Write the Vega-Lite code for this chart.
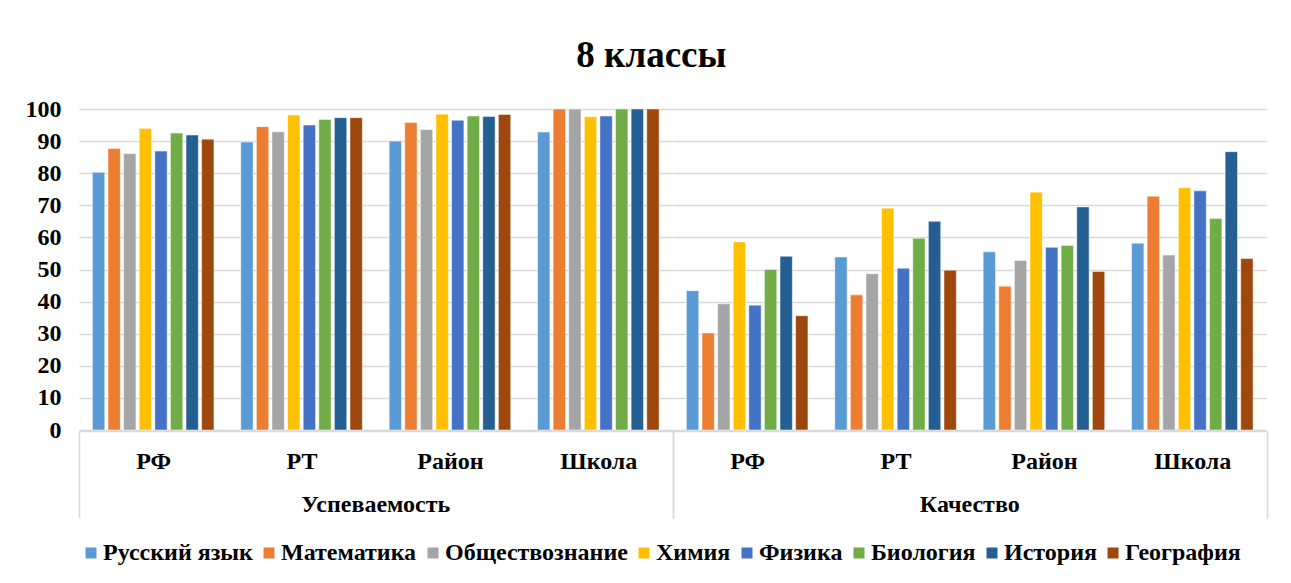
{
  "$schema": "https://vega.github.io/schema/vega-lite/v6.json",
  "background": "white",
  "padding": {"left": 25, "top": 37, "right": 24, "bottom": 5},
  "title": {"text": "8 классы", "fontSize": 37, "font": "Liberation Serif", "fontWeight": "bold", "color": "#000000", "anchor": "middle", "frame": "bounds", "offset": 22, "dx": 5},
  "data": {"values": [
    {"cat": "Успеваемость", "level": "РФ", "subject": "Русский язык", "value": 80.3},
    {"cat": "Успеваемость", "level": "РФ", "subject": "Математика", "value": 87.7},
    {"cat": "Успеваемость", "level": "РФ", "subject": "Обществознание", "value": 86.1},
    {"cat": "Успеваемость", "level": "РФ", "subject": "Химия", "value": 93.9},
    {"cat": "Успеваемость", "level": "РФ", "subject": "Физика", "value": 86.9},
    {"cat": "Успеваемость", "level": "РФ", "subject": "Биология", "value": 92.5},
    {"cat": "Успеваемость", "level": "РФ", "subject": "История", "value": 91.9},
    {"cat": "Успеваемость", "level": "РФ", "subject": "География", "value": 90.6},
    {"cat": "Успеваемость", "level": "РТ", "subject": "Русский язык", "value": 89.7},
    {"cat": "Успеваемость", "level": "РТ", "subject": "Математика", "value": 94.5},
    {"cat": "Успеваемость", "level": "РТ", "subject": "Обществознание", "value": 92.9},
    {"cat": "Успеваемость", "level": "РТ", "subject": "Химия", "value": 98.1},
    {"cat": "Успеваемость", "level": "РТ", "subject": "Физика", "value": 95.0},
    {"cat": "Успеваемость", "level": "РТ", "subject": "Биология", "value": 96.7},
    {"cat": "Успеваемость", "level": "РТ", "subject": "История", "value": 97.3},
    {"cat": "Успеваемость", "level": "РТ", "subject": "География", "value": 97.3},
    {"cat": "Успеваемость", "level": "Район", "subject": "Русский язык", "value": 90.0},
    {"cat": "Успеваемость", "level": "Район", "subject": "Математика", "value": 95.8},
    {"cat": "Успеваемость", "level": "Район", "subject": "Обществознание", "value": 93.6},
    {"cat": "Успеваемость", "level": "Район", "subject": "Химия", "value": 98.4},
    {"cat": "Успеваемость", "level": "Район", "subject": "Физика", "value": 96.5},
    {"cat": "Успеваемость", "level": "Район", "subject": "Биология", "value": 97.8},
    {"cat": "Успеваемость", "level": "Район", "subject": "История", "value": 97.7},
    {"cat": "Успеваемость", "level": "Район", "subject": "География", "value": 98.3},
    {"cat": "Успеваемость", "level": "Школа", "subject": "Русский язык", "value": 92.8},
    {"cat": "Успеваемость", "level": "Школа", "subject": "Математика", "value": 100},
    {"cat": "Успеваемость", "level": "Школа", "subject": "Обществознание", "value": 100},
    {"cat": "Успеваемость", "level": "Школа", "subject": "Химия", "value": 97.6},
    {"cat": "Успеваемость", "level": "Школа", "subject": "Физика", "value": 97.8},
    {"cat": "Успеваемость", "level": "Школа", "subject": "Биология", "value": 100},
    {"cat": "Успеваемость", "level": "Школа", "subject": "История", "value": 100},
    {"cat": "Успеваемость", "level": "Школа", "subject": "География", "value": 100},
    {"cat": "Качество", "level": "РФ", "subject": "Русский язык", "value": 43.4},
    {"cat": "Качество", "level": "РФ", "subject": "Математика", "value": 30.2},
    {"cat": "Качество", "level": "РФ", "subject": "Обществознание", "value": 39.3},
    {"cat": "Качество", "level": "РФ", "subject": "Химия", "value": 58.6},
    {"cat": "Качество", "level": "РФ", "subject": "Физика", "value": 38.9},
    {"cat": "Качество", "level": "РФ", "subject": "Биология", "value": 50.0},
    {"cat": "Качество", "level": "РФ", "subject": "История", "value": 54.1},
    {"cat": "Качество", "level": "РФ", "subject": "География", "value": 35.6},
    {"cat": "Качество", "level": "РТ", "subject": "Русский язык", "value": 53.9},
    {"cat": "Качество", "level": "РТ", "subject": "Математика", "value": 42.1},
    {"cat": "Качество", "level": "РТ", "subject": "Обществознание", "value": 48.7},
    {"cat": "Качество", "level": "РТ", "subject": "Химия", "value": 69.1},
    {"cat": "Качество", "level": "РТ", "subject": "Физика", "value": 50.4},
    {"cat": "Качество", "level": "РТ", "subject": "Биология", "value": 59.7},
    {"cat": "Качество", "level": "РТ", "subject": "История", "value": 65.0},
    {"cat": "Качество", "level": "РТ", "subject": "География", "value": 49.8},
    {"cat": "Качество", "level": "Район", "subject": "Русский язык", "value": 55.5},
    {"cat": "Качество", "level": "Район", "subject": "Математика", "value": 44.8},
    {"cat": "Качество", "level": "Район", "subject": "Обществознание", "value": 52.8},
    {"cat": "Качество", "level": "Район", "subject": "Химия", "value": 74.1},
    {"cat": "Качество", "level": "Район", "subject": "Физика", "value": 56.9},
    {"cat": "Качество", "level": "Район", "subject": "Биология", "value": 57.5},
    {"cat": "Качество", "level": "Район", "subject": "История", "value": 69.5},
    {"cat": "Качество", "level": "Район", "subject": "География", "value": 49.4},
    {"cat": "Качество", "level": "Школа", "subject": "Русский язык", "value": 58.2},
    {"cat": "Качество", "level": "Школа", "subject": "Математика", "value": 72.8},
    {"cat": "Качество", "level": "Школа", "subject": "Обществознание", "value": 54.5},
    {"cat": "Качество", "level": "Школа", "subject": "Химия", "value": 75.5},
    {"cat": "Качество", "level": "Школа", "subject": "Физика", "value": 74.5},
    {"cat": "Качество", "level": "Школа", "subject": "Биология", "value": 65.9},
    {"cat": "Качество", "level": "Школа", "subject": "История", "value": 86.7},
    {"cat": "Качество", "level": "Школа", "subject": "География", "value": 53.4}
  ]},
  "facet": {
    "column": {
      "field": "cat",
      "type": "nominal",
      "sort": ["Успеваемость", "Качество"],
      "header": {"labelOrient": "bottom", "title": null, "labelFontSize": 24, "labelFont": "Liberation Serif", "labelFontWeight": "bold", "labelColor": "#000000", "labelPadding": -26}
    }
  },
  "spacing": 0,
  "spec": {
    "width": 593.5,
    "height": 321,
    "mark": {"type": "bar", "stroke": "white", "strokeWidth": 0.8, "strokeOpacity": 0.6},
    "encoding": {
      "x": {"field": "level", "type": "nominal", "sort": ["РФ", "РТ", "Район", "Школа"],
            "scale": {"paddingInner": 0, "paddingOuter": 0},
            "axis": {"title": null, "labelAngle": 0, "labelFontSize": 24, "labelFont": "Liberation Serif", "labelFontWeight": "bold", "labelColor": "#000000", "labelPadding": -69,
                     "ticks": true, "tickBand": "extent", "tickSize": 87, "tickColor": "#D9D9D9", "tickWidth": 1.5,
                     "tickOpacity": {"condition": {"test": "datum.value == 'Школа' || datum.extra", "value": 1}, "value": 0},
                     "domain": true, "domainColor": "#D9D9D9", "domainWidth": 1.5}},
      "xOffset": {"field": "subject", "type": "nominal",
            "sort": ["Русский язык", "Математика", "Обществознание", "Химия", "Физика", "Биология", "История", "География"],
            "scale": {"paddingInner": 0.21, "paddingOuter": 0.86}},
      "y": {"field": "value", "type": "quantitative",
            "scale": {"domain": [0, 100], "nice": false},
            "axis": {"title": null, "values": [0, 10, 20, 30, 40, 50, 60, 70, 80, 90, 100], "labelFontSize": 24, "labelFont": "Liberation Serif", "labelFontWeight": "bold", "labelColor": "#000000", "labelPadding": 18, "ticks": false, "domain": false, "gridColor": "#D9D9D9", "gridWidth": 1.5}},
      "color": {"field": "subject", "type": "nominal",
            "scale": {"domain": ["Русский язык", "Математика", "Обществознание", "Химия", "Физика", "Биология", "История", "География"],
                      "range": ["#5B9BD5", "#ED7D31", "#A5A5A5", "#FFC000", "#4472C4", "#70AD47", "#255E91", "#9E480E"]},
            "legend": {"title": null, "orient": "bottom", "direction": "horizontal", "columns": 8, "symbolType": "square", "symbolSize": 121, "symbolStrokeWidth": 0, "labelFontSize": 24, "labelFont": "Liberation Serif", "labelFontWeight": "bold", "labelColor": "#000000", "columnPadding": 4, "labelOffset": 0, "offset": 22, "labelLimit": 400}}
    }
  },
  "config": {
    "view": {"stroke": null},
    "font": "Liberation Serif"
  }
}
